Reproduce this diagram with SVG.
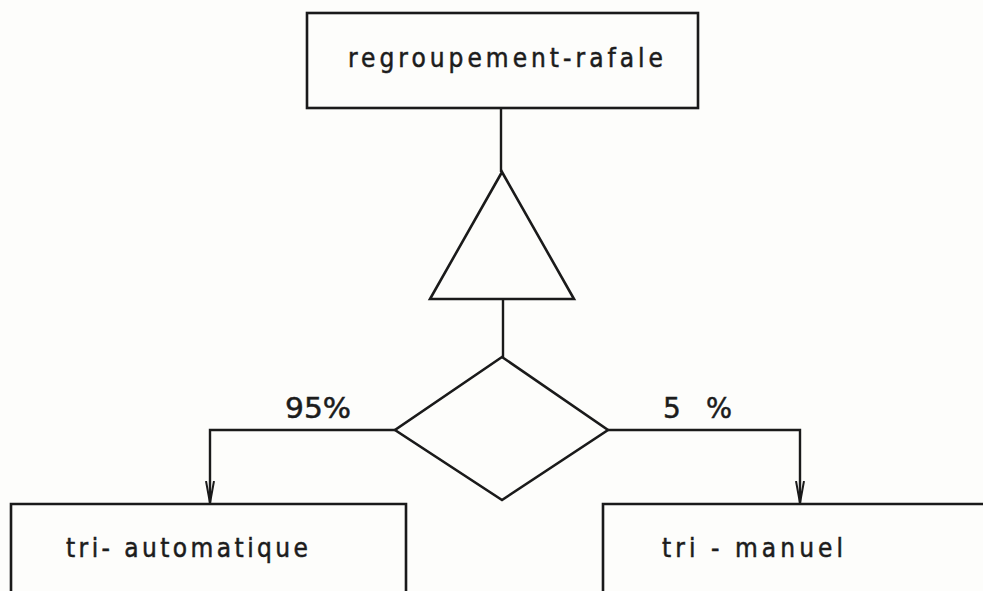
<svg xmlns="http://www.w3.org/2000/svg" width="983" height="591" viewBox="0 0 983 591">
  <defs>
    <style>
      .shape { fill: none; stroke: #1a1a1a; stroke-width: 2.6; stroke-linejoin: miter; }
      .wire { fill: none; stroke: #1a1a1a; stroke-width: 2.4; }
      .lbl { font-family: "DejaVu Sans", "Liberation Sans", sans-serif; font-stretch: condensed; font-size: 26px; fill: #1c1c1c; stroke: #1c1c1c; stroke-width: 0.5; }
      .pct { font-size: 28px; font-stretch: normal; }
    </style>
    <!-- open arrowhead, drawn along +x so orient="auto" points it down the line -->
    <marker id="arrow" viewBox="0 0 22 10" refX="22" refY="5" markerWidth="22" markerHeight="10" markerUnits="userSpaceOnUse" orient="auto">
      <path d="M0,1 L22,5 L0,9" fill="none" stroke="#1a1a1a" stroke-width="2"/>
    </marker>
  </defs>
  <rect width="983" height="591" fill="#fdfdfb"/>

  <g id="connectors">
    <line class="wire" x1="501" y1="108" x2="501" y2="172"/>
    <line class="wire" x1="503" y1="299" x2="503" y2="357"/>
    <polyline class="wire" points="395,430 210,430 210,503" marker-end="url(#arrow)"/>
    <polyline class="wire" points="608,430 800,430 800,503" marker-end="url(#arrow)"/>
  </g>

  <g id="regroupement-rafale">
    <rect class="shape" x="307" y="13" width="391" height="95"/>
    <text class="lbl" x="348" y="67" textLength="315" lengthAdjust="spacing">regroupement-rafale</text>
  </g>

  <g id="triangle">
    <polygon class="shape" points="502,172 430,299 574,299"/>
  </g>

  <g id="decision">
    <polygon class="shape" points="502,357 608,430 502,500 395,430"/>
    <text class="lbl pct" x="285" y="418" textLength="66" lengthAdjust="spacingAndGlyphs">95%</text>
    <text class="lbl pct" x="663" y="418">5</text>
    <text class="lbl pct" x="706" y="418" textLength="26" lengthAdjust="spacingAndGlyphs">%</text>
  </g>

  <g id="tri-automatique">
    <polyline class="shape" points="11,600 11,504 406,504 406,600"/>
    <text class="lbl" x="66" y="557" textLength="242" lengthAdjust="spacing">tri- automatique</text>
  </g>

  <g id="tri-manuel">
    <polyline class="shape" points="603,600 603,504 990,504"/>
    <text class="lbl" x="662" y="557" textLength="181" lengthAdjust="spacing">tri - manuel</text>
  </g>
</svg>
